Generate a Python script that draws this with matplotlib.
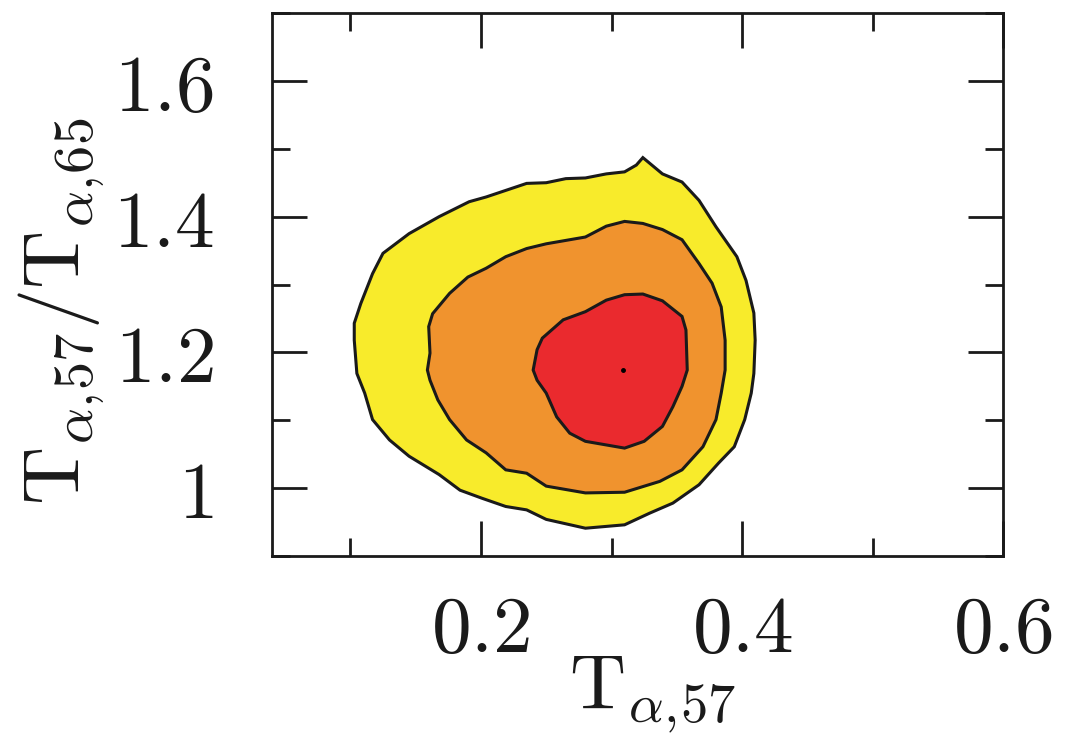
import matplotlib
matplotlib.use('Agg')
import matplotlib.pyplot as plt
from matplotlib.ticker import FixedLocator, FixedFormatter

# confidence regions in the (T_a57, T_a57/T_a65) plane, outer to inner
outer_x = [0.324, 0.339, 0.354, 0.367, 0.380, 0.396, 0.403, 0.409, 0.410, 0.409,
           0.407, 0.402, 0.394, 0.382, 0.367, 0.347, 0.329, 0.310, 0.280, 0.250,
           0.235, 0.219, 0.201, 0.184, 0.168, 0.145, 0.130, 0.117, 0.111, 0.105,
           0.103, 0.103, 0.108, 0.117, 0.125, 0.145, 0.168, 0.191, 0.204, 0.235,
           0.250, 0.265, 0.280, 0.296, 0.310, 0.319]
outer_y = [1.487, 1.463, 1.451, 1.424, 1.385, 1.341, 1.306, 1.258, 1.218, 1.169,
           1.140, 1.101, 1.061, 1.037, 1.005, 0.978, 0.963, 0.946, 0.941, 0.954,
           0.968, 0.973, 0.985, 0.997, 1.020, 1.047, 1.071, 1.101, 1.140, 1.169,
           1.218, 1.243, 1.272, 1.316, 1.346, 1.375, 1.400, 1.422, 1.429, 1.449,
           1.450, 1.456, 1.457, 1.463, 1.466, 1.476]

mid_x = [0.310, 0.324, 0.339, 0.354, 0.367, 0.377, 0.384, 0.387, 0.387, 0.384,
         0.380, 0.370, 0.354, 0.337, 0.310, 0.280, 0.250, 0.235, 0.219, 0.204,
         0.189, 0.176, 0.167, 0.161, 0.159, 0.161, 0.160, 0.163, 0.176, 0.190,
         0.204, 0.219, 0.235, 0.250, 0.265, 0.280, 0.296]
mid_y = [1.393, 1.390, 1.381, 1.366, 1.331, 1.302, 1.267, 1.218, 1.174, 1.140,
         1.101, 1.061, 1.027, 1.010, 0.994, 0.993, 1.003, 1.022, 1.027, 1.052,
         1.071, 1.101, 1.130, 1.159, 1.174, 1.199, 1.238, 1.257, 1.287, 1.311,
         1.324, 1.341, 1.353, 1.360, 1.365, 1.370, 1.386]

inner_x = [0.310, 0.324, 0.339, 0.354, 0.357, 0.358, 0.354, 0.347, 0.339, 0.325,
           0.310, 0.280, 0.268, 0.258, 0.250, 0.243, 0.240, 0.243, 0.247, 0.263,
           0.280, 0.296]
inner_y = [1.285, 1.286, 1.276, 1.253, 1.233, 1.174, 1.150, 1.120, 1.091, 1.069,
           1.059, 1.069, 1.081, 1.105, 1.140, 1.159, 1.174, 1.204, 1.221, 1.248,
           1.260, 1.277]

best_x, best_y = 0.309, 1.174

x_major = [0.2, 0.4, 0.6]
x_minor = [0.1, 0.3, 0.5]
x_labels = ['$0.2$', '$0.4$', '$0.6$']
y_major = [1.0, 1.2, 1.4, 1.6]
y_minor = [0.9, 1.1, 1.3, 1.5, 1.7]
y_labels = ['$1$', '$1.2$', '$1.4$', '$1.6$']

plt.rcParams['mathtext.fontset'] = 'cm'

fig = plt.figure(figsize=(10.91, 7.40), dpi=100)
ax = fig.add_axes([0.2493, 0.2486, 0.6703, 0.7338])

for xs, ys, col in [(outer_x, outer_y, '#f8eb2b'),
                    (mid_x, mid_y, '#f0932e'),
                    (inner_x, inner_y, '#ea2a2e')]:
    ax.fill(xs, ys, facecolor=col, edgecolor='#1a1a1a', linewidth=2.2)

ax.plot([best_x], [best_y], 'o', color='black', markersize=2.5)

ax.set_xlim(0.04, 0.6)
ax.set_ylim(0.9, 1.7)

ax.xaxis.set_major_locator(FixedLocator(x_major))
ax.xaxis.set_minor_locator(FixedLocator(x_minor))
ax.xaxis.set_major_formatter(FixedFormatter(x_labels))
ax.yaxis.set_major_locator(FixedLocator(y_major))
ax.yaxis.set_minor_locator(FixedLocator(y_minor))
ax.yaxis.set_major_formatter(FixedFormatter(y_labels))

ax.tick_params(which='both', direction='in', top=True, right=True,
               width=2, color='#1a1a1a', labelsize=57, labelcolor='#1a1a1a')
ax.tick_params(which='major', length=25)
ax.tick_params(which='minor', length=13)
ax.tick_params(axis='x', which='major', pad=26)
ax.tick_params(axis='y', which='major', pad=42)

for sp in ax.spines.values():
    sp.set_linewidth(2)
    sp.set_color('#1a1a1a')

ax.set_xlabel(r'$\mathrm{T}_{\alpha,\!57}$', fontsize=56, color='#1a1a1a')
ax.set_ylabel(r'$\mathrm{T}_{\alpha,\!57}/\mathrm{T}_{\alpha,\!65}$',
              fontsize=58, color='#1a1a1a')
ax.xaxis.set_label_coords(0.52, -0.182)
ax.yaxis.set_label_coords(-0.225, 0.45)

fig.savefig('out.png', dpi=100)
